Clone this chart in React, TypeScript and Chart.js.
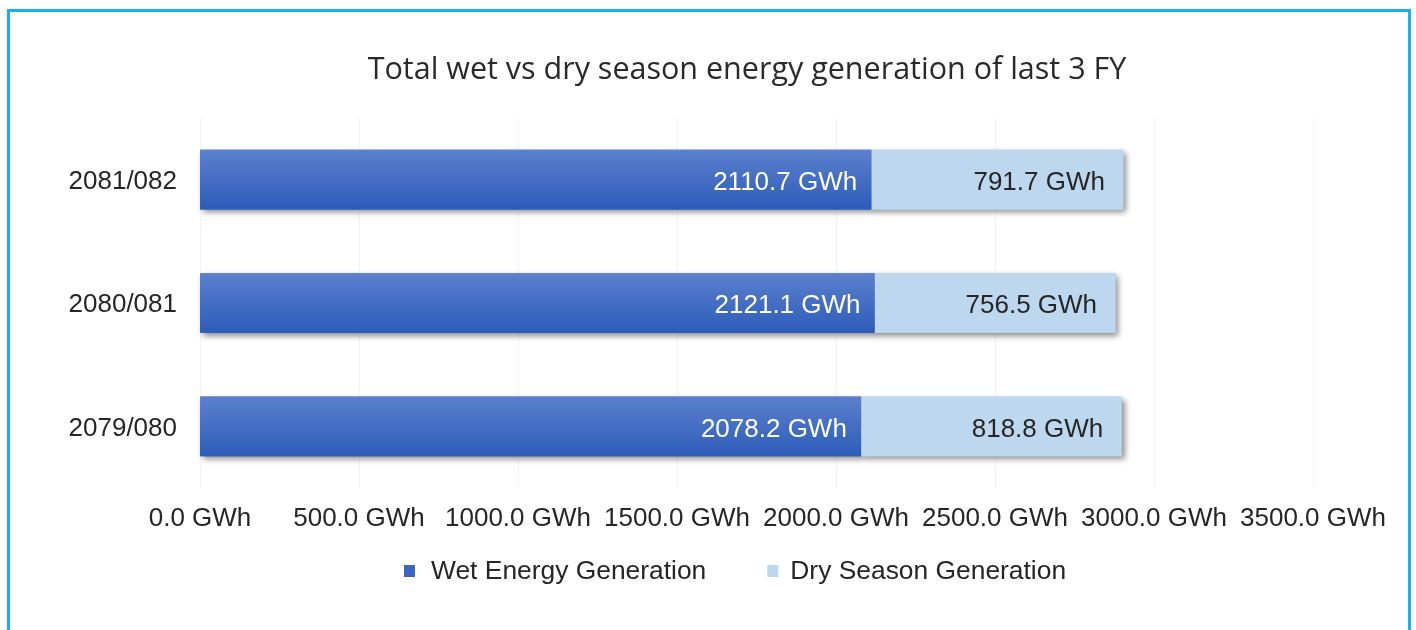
import React, { useEffect, useRef } from "react";
import { Chart, registerables } from "chart.js";

Chart.register(...registerables);

const categories = ["2081/082", "2080/081", "2079/080"];
const wetValues = [2110.7, 2121.1, 2078.2];
const dryValues = [791.7, 756.5, 818.8];
const seriesNames = ["Wet Energy Generation", "Dry Season Generation"];
const titleText = "Total wet vs dry season energy generation of last 3 FY";
const xMin = 0;
const xMax = 3500;
const xStep = 500;
const unit = "GWh";

const FONT = "'Liberation Sans', Arial, sans-serif";
const TEXT = "#262626";
const WET_TOP = "#5b80cd";
const WET_BOTTOM = "#2d5cb9";
const WET_SWATCH = "#3a66c4";
const DRY = "#bdd7ee";
const BAR_THICK = 59;

const shadowPlugin = {
  id: "barShadow",
  beforeDatasetsDraw(chart: any) {
    const ctx = chart.ctx;
    ctx.save();
    ctx.shadowColor = "rgba(0,0,0,0.45)";
    ctx.shadowBlur = 6;
    ctx.shadowOffsetX = 3;
    ctx.shadowOffsetY = 3;
    chart.data.datasets.forEach((_: any, di: number) => {
      chart.getDatasetMeta(di).data.forEach((bar: any) => bar.draw(ctx));
    });
    ctx.restore();
  },
};

const titlePlugin = {
  id: "customTitle",
  afterDraw(chart: any) {
    const ctx = chart.ctx;
    ctx.save();
    ctx.font = `30.5px 'Open Sans', sans-serif`;
    ctx.fillStyle = "#2a2a2a";
    ctx.textAlign = "center";
    ctx.textBaseline = "alphabetic";
    ctx.fillText(titleText, 747, 79);
    ctx.restore();
  },
};

const labelPlugin = {
  id: "insideEndLabels",
  afterDatasetsDraw(chart: any) {
    const ctx = chart.ctx;
    ctx.save();
    ctx.font = `26px ${FONT}`;
    ctx.textAlign = "right";
    ctx.textBaseline = "middle";
    chart.data.datasets.forEach((ds: any, di: number) => {
      const meta = chart.getDatasetMeta(di);
      meta.data.forEach((bar: any, i: number) => {
        const v = ds.data[i];
        ctx.fillStyle = di === 0 ? "#ffffff" : TEXT;
        const pad = di === 0 ? 14 : 18;
        ctx.fillText(`${v.toFixed(1)} ${unit}`, bar.x - pad, bar.y + 3);
      });
    });
    ctx.restore();
  },
};

const legendPlugin = {
  id: "customLegend",
  afterDraw(chart: any) {
    const ctx = chart.ctx;
    ctx.save();
    ctx.font = `26.4px ${FONT}`;
    ctx.textBaseline = "middle";
    ctx.textAlign = "left";
    const sw = 11;
    const textStarts = [27, 23];
    const gapItem = 61;
    const colors = [WET_SWATCH, DRY];
    const widths = seriesNames.map((n, i) => textStarts[i] + ctx.measureText(n).width);
    let x = 404;
    const y = 571;
    seriesNames.forEach((n, i) => {
      ctx.fillStyle = colors[i];
      ctx.fillRect(x, y - 6, sw, 12);
      ctx.fillStyle = TEXT;
      ctx.fillText(n, x + textStarts[i], y + 1);
      x += widths[i] + gapItem;
    });
    ctx.restore();
  },
};

function wetGradient(c: any) {
  const chart = c.chart;
  const ys = chart.scales && chart.scales.y;
  if (!ys || c.dataIndex === undefined) return WET_BOTTOM;
  const center = ys.getPixelForValue(c.dataIndex);
  if (!Number.isFinite(center)) return WET_BOTTOM;
  const g = chart.ctx.createLinearGradient(0, center - BAR_THICK / 2, 0, center + BAR_THICK / 2);
  g.addColorStop(0, WET_TOP);
  g.addColorStop(1, WET_BOTTOM);
  return g;
}

export default function App() {
  const ref = useRef<HTMLCanvasElement | null>(null);

  useEffect(() => {
    if (!ref.current) return;
    const chart = new Chart(ref.current, {
      type: "bar",
      data: {
        labels: categories,
        datasets: [
          {
            label: seriesNames[0],
            data: wetValues,
            backgroundColor: wetGradient as any,
            barThickness: BAR_THICK,
          },
          {
            label: seriesNames[1],
            data: dryValues,
            backgroundColor: DRY,
            barThickness: BAR_THICK,
          },
        ],
      },
      options: {
        indexAxis: "y",
        responsive: false,
        animation: false,
        layout: { padding: { left: 0, right: 103, top: 118, bottom: 92 } },
        plugins: {
          legend: { display: false },
          tooltip: { enabled: false },
          title: { display: false },
        },
        scales: {
          x: {
            stacked: true,
            min: xMin,
            max: xMax,
            border: { display: false },
            grid: { color: "#f3f3f3", drawTicks: false },
            ticks: {
              stepSize: xStep,
              padding: 15,
              color: TEXT,
              font: { family: FONT, size: 26 },
              maxRotation: 0,
              autoSkip: false,
              callback: (v: any) => `${Number(v).toFixed(1)} ${unit}`,
            },
            afterFit: (s: any) => {
              s.height = 50;
            },
          },
          y: {
            stacked: true,
            border: { display: false },
            grid: { display: false, drawTicks: false },
            ticks: { padding: 23, labelOffset: 2, color: TEXT, font: { family: FONT, size: 26 } },
            afterFit: (s: any) => {
              s.width = 200;
            },
          },
        },
      },
      plugins: [shadowPlugin, labelPlugin, legendPlugin, titlePlugin],
    } as any);
    chart.update();
    return () => chart.destroy();
  }, []);

  return (
    <div style={{ position: "absolute", left: 0, top: 0, width: 1416, height: 630, overflow: "hidden", background: "#fff" }}>
      <div
        style={{
          position: "absolute",
          left: 7,
          top: 9,
          width: 1404,
          height: 700,
          boxSizing: "border-box",
          border: "3px solid #19b0ec",
        }}
      />
      <canvas ref={ref} width={1416} height={630} style={{ position: "absolute", left: 0, top: 0, width: 1416, height: 630 }} />
    </div>
  );
}
